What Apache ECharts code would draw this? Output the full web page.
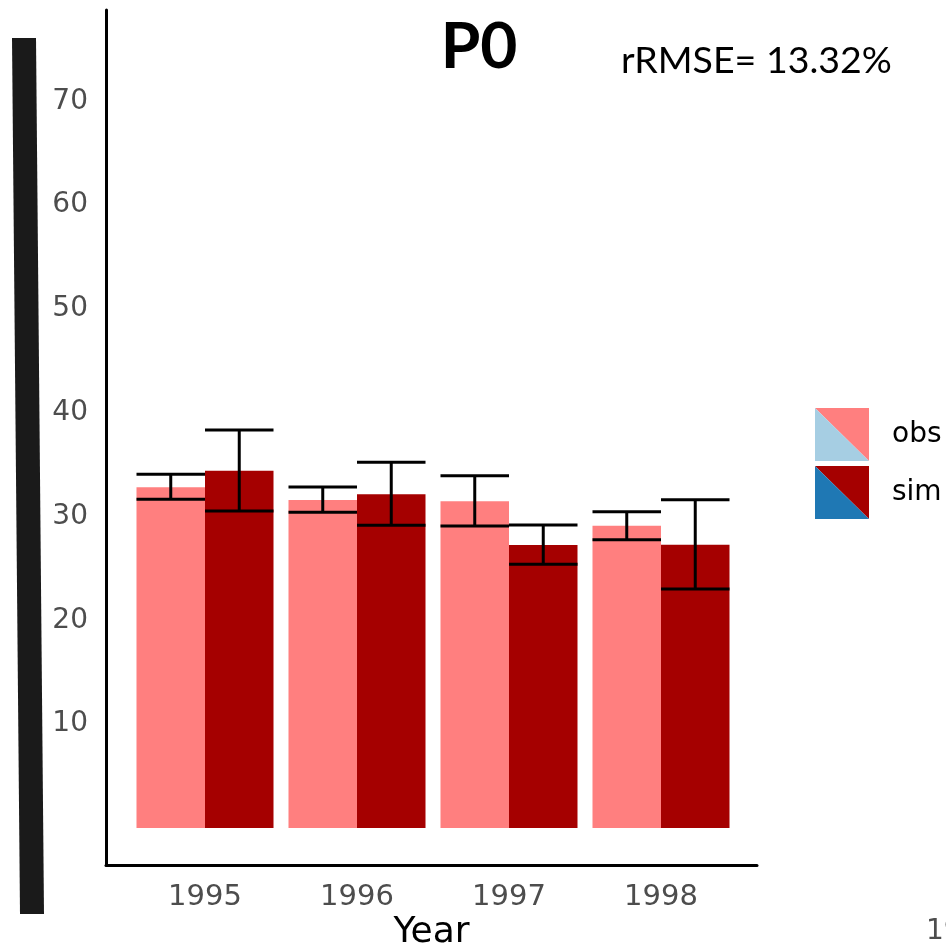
<!DOCTYPE html>
<html>
<head>
<meta charset="utf-8">
<script src="https://cdn.jsdelivr.net/npm/echarts@6/dist/echarts.min.js"></script>
<style>html,body{margin:0;padding:0;background:#fff}#c{width:946px;height:949px}</style>
</head>
<body>
<div id="c"></div>
<script>
const years = ['1995', '1996', '1997', '1998'];
const obsMean = [32.82, 31.6, 31.47, 29.12];
const obsLow = [31.67, 30.41, 29.09, 27.77];
const obsHigh = [34.08, 32.85, 33.94, 30.47];
const simMean = [34.42, 32.15, 27.26, 27.29];
const simLow = [30.54, 29.16, 25.4, 23.03];
const simHigh = [38.34, 35.23, 29.19, 31.63];
const yTicks = [0, 10, 20, 30, 40, 50, 60, 70];

const errData = [];
years.forEach((y, i) => {
  errData.push([i, obsLow[i], obsHigh[i], -1]);
  errData.push([i, simLow[i], simHigh[i], 1]);
});

const chart = echarts.init(document.getElementById('c'));
chart.setOption({
  animation: false,
  grid: [
    {left: 129, right: 209, top: 101.4, bottom: 121, outerBoundsMode: 'none', containLabel: false},
    {left: 106, right: 189, top: 10, bottom: 84, outerBoundsMode: 'none', containLabel: false}
  ],
  xAxis: [
    {type: 'category', gridIndex: 0, data: years,
     axisLine: {show: false}, axisTick: {show: false}, splitLine: {show: false},
     axisLabel: {fontSize: 29, color: '#4D4D4D', fontFamily: 'DejaVu Sans', margin: 55}},
    {type: 'value', gridIndex: 1, min: 0, max: 1,
     axisLine: {show: true, onZero: false, lineStyle: {color: '#000', width: 3}},
     axisTick: {show: false}, axisLabel: {show: false}, splitLine: {show: false},
     name: 'Year', nameLocation: 'middle', nameGap: 50,
     nameTextStyle: {fontSize: 36, color: '#000', fontFamily: 'DejaVu Sans'}}
  ],
  yAxis: [
    {type: 'value', gridIndex: 0, min: yTicks[0], max: yTicks[yTicks.length - 1], interval: 10,
     axisLine: {show: false}, axisTick: {show: false}, splitLine: {show: false},
     axisLabel: {fontSize: 28, color: '#4D4D4D', fontFamily: 'DejaVu Sans', margin: 41,
       padding: [8, 0, 0, 0],
       formatter: v => (v === 0 ? '' : String(v))}},
    {type: 'value', gridIndex: 1, min: 0, max: 1,
     axisLine: {show: true, onZero: false, lineStyle: {color: '#000', width: 3}},
     axisTick: {show: false}, axisLabel: {show: false}, splitLine: {show: false}}
  ],
  series: [
    {type: 'bar', name: 'obs', xAxisIndex: 0, yAxisIndex: 0, data: obsMean,
     barWidth: 68.5, barGap: '0%', itemStyle: {color: '#FF7F7F'}},
    {type: 'bar', name: 'sim', xAxisIndex: 0, yAxisIndex: 0, data: simMean,
     barWidth: 68.5, barGap: '0%', itemStyle: {color: '#A50000'}},
    {type: 'custom', xAxisIndex: 0, yAxisIndex: 0, data: errData, z: 10,
     renderItem: function (params, api) {
       const c = api.value(0), lo = api.value(1), hi = api.value(2), side = api.value(3);
       const band = api.size([1, 0])[0];
       const bw = band * 137 / 152 / 2;
       const x = api.coord([c, 0])[0] + side * bw / 2;
       const yLo = api.coord([c, lo])[1];
       const yHi = api.coord([c, hi])[1];
       const st = {stroke: '#000', lineWidth: 3};
       return {type: 'group', children: [
         {type: 'line', shape: {x1: x, y1: yHi, x2: x, y2: yLo}, style: st},
         {type: 'line', shape: {x1: x - bw / 2, y1: yHi, x2: x + bw / 2, y2: yHi}, style: st},
         {type: 'line', shape: {x1: x - bw / 2, y1: yLo, x2: x + bw / 2, y2: yLo}, style: st}
       ]};
     }}
  ],
  graphic: [
    {type: 'polygon', shape: {points: [[12, 38], [36, 38], [44, 914], [20, 914]]}, style: {fill: '#1A1A1A'}},
    {type: 'text', x: 479, y: 47, style: {text: 'P0', font: 'bold 64px Lato', fill: '#000', textAlign: 'center', textVerticalAlign: 'middle'}},
    {type: 'text', x: 621, y: 61, style: {text: 'rRMSE= 13.32%', font: '37.5px Lato', fill: '#000', textAlign: 'left', textVerticalAlign: 'middle'}},
    {type: 'polygon', shape: {points: [[815, 408], [869, 408], [869, 461]]}, style: {fill: '#FF7F7F'}},
    {type: 'polygon', shape: {points: [[815, 408], [815, 461], [869, 461]]}, style: {fill: '#A6CEE3'}},
    {type: 'polygon', shape: {points: [[815, 466], [869, 466], [869, 519]]}, style: {fill: '#A50000'}},
    {type: 'polygon', shape: {points: [[815, 466], [815, 519], [869, 519]]}, style: {fill: '#1F78B4'}},
    {type: 'text', x: 892, y: 435, style: {text: 'obs', font: '28px "DejaVu Sans"', fill: '#000', textVerticalAlign: 'middle'}},
    {type: 'text', x: 892, y: 493, style: {text: 'sim', font: '28px "DejaVu Sans"', fill: '#000', textVerticalAlign: 'middle'}},
    {type: 'text', x: 926, y: 932, style: {text: '1995', font: '28px "DejaVu Sans"', fill: '#4D4D4D', textVerticalAlign: 'middle'}}
  ]
});
</script>
</body>
</html>
